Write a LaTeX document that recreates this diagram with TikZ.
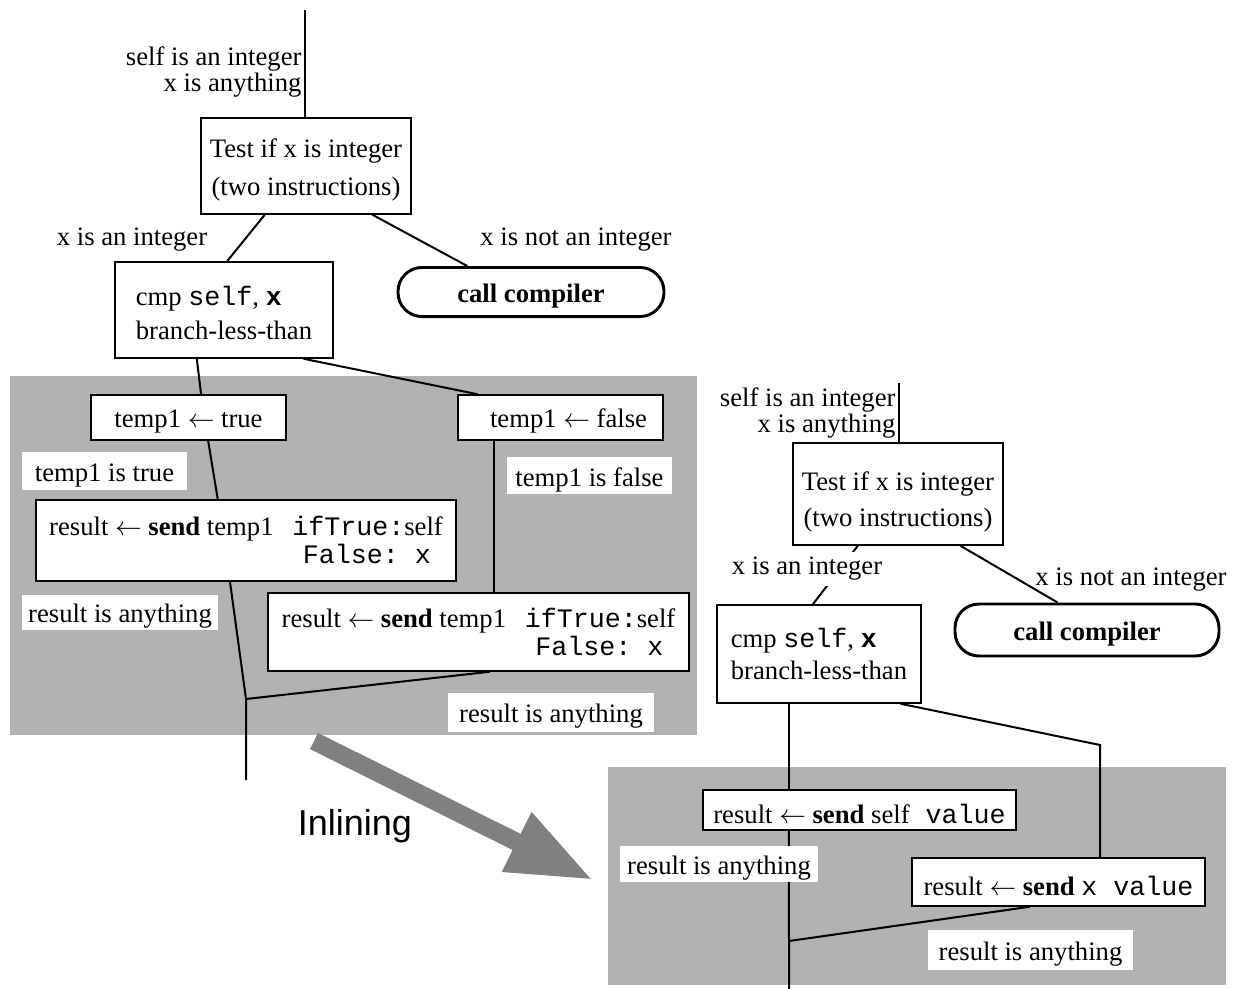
\documentclass[tikz,border=0pt]{standalone}
\usepackage{fontspec}
\setmainfont{Liberation Serif}
\setsansfont{Liberation Sans}
\setmonofont{Liberation Mono}
\usepackage{tikz}
\usetikzlibrary{arrows.meta,positioning,calc}
\tikzset{
    box/.style={draw, line width=0.55pt, fill=white, inner sep=0pt, execute at begin node={\rule{0pt}{1em}}},
    pill/.style={box, rounded corners=9pt, line width=1.1pt, font=\bfseries},
    lbl/.style={fill=white, inner sep=0pt, execute at begin node={\rule{0pt}{1em}}},
    wire/.style={line width=0.75pt},
    shade/.style={fill=gray!60},
  }
\newcommand{\sendtemp}{result $\leftarrow$ \textbf{send} temp1\hspace{7pt}}
\newcommand{\sendbold}{result $\leftarrow$ \textbf{send}}
\newcommand{\up}[1]{\rule{0pt}{#1em}}

\begin{document}
\begin{tikzpicture}[x=0.375pt, y=-0.375pt]
    \useasboundingbox (0,0) rectangle (1233,989);

    %% inlined parts
    \fill[shade] (10,376) rectangle (697,735);
    \fill[shade] (608,767) rectangle (1226,985);
    \draw[line width=6.75pt, gray, -{Triangle[length=32pt, width=23pt]}] (314,741) -- (593,880);
    \node[font=\sffamily\fontsize{13.5}{16}\selectfont] (inl) at (355,826) {Inlining};

    %% before
    \coordinate (s1) at (305,10);
    \coordinate (j1) at (246,699);
    \coordinate (e1) at (246,780);
    \node[box, minimum width=78.75pt, minimum height=36pt, align=center] (tst) at (306,166) {\up{1.0}Test if x is integer\\[2pt](two instructions)};
    \node[box, minimum width=81.75pt, minimum height=36pt, align=left] (cmp) at (224,310) {\up{0.95}cmp \texttt{self}, \texttt{\textbf{x}}\\[1pt]branch-less-than};
    \node[pill, minimum width=99.75pt, minimum height=18.4pt] (cc) at (531,292) {call compiler};
    \node[box, minimum width=73.1pt, minimum height=16.9pt] (tt) at (188.5,417.5) {temp1 $\leftarrow$ true};
    \node[box, minimum width=76.9pt, minimum height=16.9pt] (tf) at (560.5,417.5) {\hspace{6pt}temp1 $\leftarrow$ false};
    \node[box, minimum width=157.5pt, minimum height=30.4pt, align=left] (ra) at (246,540.5) {\up{0.85}\sendtemp\texttt{ifTrue:}self\\[-1.5pt]\phantom{\sendtemp}\hspace{4pt}\texttt{False:~x}};
    \node[box, minimum width=157.9pt, minimum height=29.25pt, align=left] (rb) at (478.5,632) {\up{0.9}\sendtemp\texttt{ifTrue:}self\\[-1.5pt]\phantom{\sendtemp}\hspace{4pt}\texttt{False:~x}};

    \draw[wire] (s1) -- (s1 |- tst.north);
    \draw[wire] ($(tst.south west)!0.305!(tst.south east)$) -- ($(cmp.north west)!0.514!(cmp.north east)$);
    \draw[wire] ($(tst.south west)!0.814!(tst.south east)$) -- ($(cc.north west)!0.263!(cc.north east)$);
    \draw[wire] ($(cmp.south west)!0.376!(cmp.south east)$) -- ($(tt.north west)!0.564!(tt.north east)$);
    \draw[wire] ($(cmp.south west)!0.862!(cmp.south east)$) -- ($(tf.north west)!0.098!(tf.north east)$);
    \draw[wire] ($(tt.south west)!0.6!(tt.south east)$) -- ($(ra.north west)!0.433!(ra.north east)$);
    \draw[wire] ($(tf.south west)!0.18!(tf.south east)$) coordinate (p) -- (p |- rb.north);
    \draw[wire] ($(ra.south west)!0.462!(ra.south east)$) -- (j1);
    \draw[wire] ($(rb.south west)!0.527!(rb.south east)$) -- (j1) -- (e1);

    \node[align=right, anchor=east, inner sep=0pt] (in1) at (302,72) {self is an integer\\[-2pt]x is anything};
    \node (int1) at (132,240) {x is an integer};
    \node (not1) at (576,240) {x is not an integer};
    \node[lbl, minimum width=61.9pt, minimum height=14.25pt] (ltt) at (104.5,471) {temp1 is true};
    \node[lbl, minimum width=61.9pt, minimum height=13.9pt] (ltf) at (589.5,475.5) {temp1 is false};
    \node[lbl, minimum width=73.5pt, minimum height=13.1pt] (lra) at (120,612.5) {result is anything};
    \node[lbl, minimum width=77.25pt, minimum height=14.6pt] (lrb) at (551,712.5) {result is anything};

    %% after
    \coordinate (s2) at (899,383);
    \coordinate (c2) at (1100,745);
    \coordinate (j2) at (789,941);
    \coordinate (e2) at (789,989);
    \node[box, minimum width=78.75pt, minimum height=38.25pt, align=center] (tst2) at (898,494) {\up{1.3}Test if x is integer\\[1.5pt](two instructions)};
    \node[box, minimum width=76.5pt, minimum height=36.75pt, align=left] (cmp2) at (819,654) {cmp \texttt{self}, \texttt{\textbf{x}}\\branch-less-than};
    \node[pill, minimum width=99pt, minimum height=19.5pt] (cc2) at (1087,630) {call compiler};
    \node[box, minimum width=117.4pt, minimum height=15pt] (sv) at (859.5,810) {\sendbold{} self\texttt{ value}};
    \node[box, minimum width=109.9pt, minimum height=18pt] (xv) at (1058.5,882) {\sendbold{} \texttt{x value}};

    \draw[wire] (s2) -- (s2 |- tst2.north);
    \draw[wire] ($(tst2.south west)!0.31!(tst2.south east)$) -- ($(cmp2.north west)!0.47!(cmp2.north east)$);
    \draw[wire] ($(tst2.south west)!0.795!(tst2.south east)$) -- ($(cc2.north west)!0.39!(cc2.north east)$);
    \draw[wire] ($(cmp2.south west)!0.353!(cmp2.south east)$) coordinate (q) -- (q |- sv.north);
    \draw[wire] ($(cmp2.south west)!0.897!(cmp2.south east)$) -- (c2) -- (c2 |- xv.north);
    \draw[wire] (q |- sv.south) -- (j2) -- (e2);
    \draw[wire] ($(xv.south west)!0.403!(xv.south east)$) -- (j2);

    \node[align=right, anchor=east, inner sep=0pt] (in2) at (896,413) {self is an integer\\[-2pt]x is anything};
    \node[fill=white, inner xsep=1pt, inner ysep=2pt] (int2) at (807,569) {x is an integer};
    \node (not2) at (1131,580) {x is not an integer};
    \node[lbl, minimum width=74.25pt, minimum height=13.5pt] (lsv) at (719,864) {result is anything};
    \node[lbl, minimum width=76.9pt, minimum height=15pt] (lxv) at (1030.5,950) {result is anything};
  \end{tikzpicture}
\end{document}
